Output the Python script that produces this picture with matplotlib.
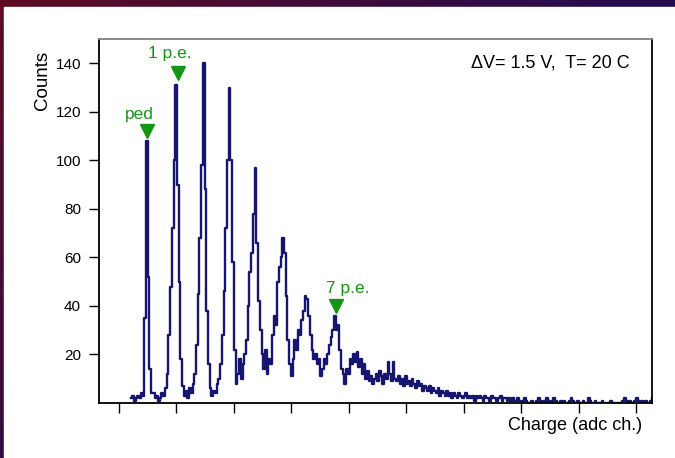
import numpy as np
import matplotlib
matplotlib.use("Agg")
import matplotlib.pyplot as plt
from matplotlib.colors import LinearSegmentedColormap

plt.rcParams['font.family'] = ['Liberation Sans', 'DejaVu Sans']

# histogram: first bin centre and bin width in adc channels
first_channel = 122
bin_width = 3
counts = [
    # baseline + pedestal
    2, 3, 1, 2, 3, 2, 4, 3, 35, 108, 52, 14, 4,
    4, 2, 3, 1, 2, 4, 3, 6,
    # 1 p.e.
    12, 28, 48, 72, 100, 131, 90, 50, 18, 7,
    3, 5, 2, 6, 4, 8,
    # 2 p.e.
    12, 24, 45, 68, 98, 140, 88, 38, 16, 6,
    3, 5, 4, 8,
    # 3 p.e.
    10, 16, 28, 46, 72, 100, 130, 100, 58, 22, 8,
    12, 18, 10, 16, 20,
    # 4 p.e.
    26, 40, 54, 62, 78, 97, 66, 42, 30, 20,
    14, 22, 12, 18, 16,
    # 5 p.e.
    28, 36, 32, 50, 56, 60, 68, 62, 44, 26, 16, 11,
    # 6 p.e.
    18, 26, 22, 30, 28, 34, 38, 44, 43, 36, 28, 22, 18, 20, 16, 18, 11,
    # 7 p.e.
    14, 18, 16, 20, 24, 27, 30, 36, 30, 32, 22, 14, 12, 8,
    # tail
    14, 12, 18, 16, 20, 17, 21, 15, 18, 12, 16, 10, 13, 9, 11, 8,
    10, 12, 9, 13, 11, 8, 12, 10, 17,
    12, 9, 17, 10,
    9, 11, 8, 10, 7, 11, 8,
    9, 7, 10, 8, 6, 9, 7, 8, 5, 7,
    6, 5, 7, 4, 6, 5, 4, 6, 3, 5,
    4, 3, 5, 3, 4, 2, 4, 3, 2, 4,
    3, 2, 3, 4, 2, 3, 2, 3, 1, 3,
    2, 3, 2, 1, 3, 2, 2, 1, 3, 2, 2, 1, 2, 3, 1, 2, 2, 1, 2, 1,
    2, 1, 1, 2, 1, 0, 1, 2, 1, 0, 0, 1, 0, 0, 1, 2, 1, 0, 1, 0,
    2, 1, 0, 1, 2, 1, 0, 0, 1, 0,
    1, 0, 0, 1, 2, 1, 0, 0, 1, 0, 0, 1, 0, 0, 2, 1, 0, 0, 1, 0,
    0, 0, 1, 0, 0, 0, 0, 1, 0, 0, 0, 0, 0, 0, 1, 2, 1, 0, 1, 0,
    0, 1, 2, 1, 0, 1, 0, 1, 0, 0, 1, 2,
]
charge = first_channel + bin_width * np.arange(len(counts))

# peak markers: label, marker position, label position
peak_labels = ['ped', '1 p.e.', '7 p.e.']
marker_x = [150, 204, 478]
marker_y = [112, 136, 40]
label_x = [136, 189, 499]
label_y = [119, 144, 47]

x_ticks = [100, 200, 300, 400, 500, 600, 700, 800, 900, 1000]
y_ticks = [20, 40, 60, 80, 100, 120, 140]

fig = plt.figure(figsize=(6.75, 4.58), dpi=100)

# slide background
bg = fig.add_axes([0, 0, 1, 1], zorder=-10)
cmap = LinearSegmentedColormap.from_list('slide', ['#5e0c22', '#2a0c4a', '#0c0c5c'])
gx, gy = np.meshgrid(np.linspace(0, 1, 200), np.linspace(0, 1, 200))
bg.imshow(0.6 * gx + 0.4 * gy, cmap=cmap, extent=[0, 1, 0, 1], aspect='auto', origin='upper')
bg.add_patch(plt.Rectangle((4 / 675, 0), 1, 1 - 7 / 458, color='white', transform=bg.transAxes))
bg.set_xlim(0, 1)
bg.set_ylim(0, 1)
bg.axis('off')

ax = fig.add_axes([99 / 675, 1 - 403 / 458, 553 / 675, 364 / 458])
ax.plot(charge, counts, drawstyle='steps-mid', color='#161670', lw=1.7)

green = '#149614'
for lab, mx, my, lx, ly in zip(peak_labels, marker_x, marker_y, label_x, label_y):
    ax.plot(mx, my, marker='v', color=green, markersize=10, mec=green)
    ax.text(lx, ly, lab, color=green, fontsize=12.5, ha='center', va='center')

ax.text((630 - 99) / 553, 0.935, '\u0394V= 1.5 V,  T= 20 C', transform=ax.transAxes,
        ha='right', va='center', fontsize=13)

ax.set_xlim(66, 1027)
ax.set_ylim(0, 150)
ax.set_xticks(x_ticks)
ax.set_xticklabels([])
ax.set_yticks(y_ticks)
ax.tick_params(axis='both', direction='out', length=7, width=1, labelsize=11, pad=6)
for side in ['left', 'bottom', 'right']:
    ax.spines[side].set_linewidth(1.3)
ax.spines['top'].set_color('#808080')
ax.spines['top'].set_linewidth(1.3)

fig.text(42 / 675, 1 - 80 / 458, 'Counts', rotation=90, ha='center', va='center', fontsize=13.5)
fig.text(642 / 675, 1 - 425 / 458, 'Charge (adc ch.)', ha='right', va='center', fontsize=13)

fig.savefig('out.png', dpi=100)
